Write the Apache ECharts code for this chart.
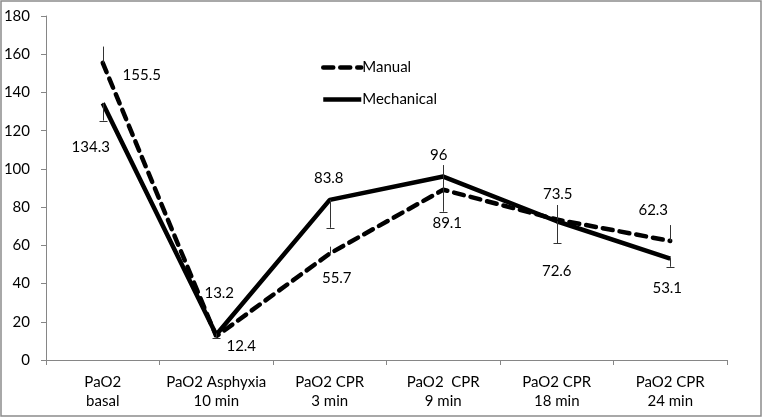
<!DOCTYPE html>
<html>
<head>
<meta charset="utf-8">
<script src="https://cdn.jsdelivr.net/npm/echarts@6/dist/echarts.min.js"></script>
<style>
html,body{margin:0;padding:0;background:#fff;}
#c{width:763px;height:418px;}
</style>
</head>
<body>
<div id="c"></div>
<script>
const categories = ['PaO2\nbasal', 'PaO2 Asphyxia\n10 min', 'PaO2 CPR\n3 min', 'PaO2  CPR\n9 min', 'PaO2 CPR\n18 min', 'PaO2 CPR\n24 min'];
const manual = [155.5, 12.4, 55.7, 89.1, 73.5, 62.3];
const mechanical = [134.3, 13.2, 83.8, 96, 72.6, 53.1];
const manualErrPlus = [8.5, 1.5, 3.6, 12.9, 7.6, 8.3];
const mechanicalErrMinus = [9, 1.5, 14.6, 18.4, 11.4, 4.3];
const yTicks = {min: 0, max: 180, interval: 20};

// label placement (layout only)
const manualLabelOffsets = [[39, 12], [25, 10], [7, 25], [4, 33], [1, -25], [-17, -31]];
const mechLabelOffsets = [[-12, 44], [3, -42], [-1, -22], [-4.5, -21.5], [0, 50], [-3, 30]];

const FONT = 'Lato';

function withLabels(values, offsets) {
  return values.map((v, i) => ({
    value: v,
    label: {offset: offsets[i]}
  }));
}

function errData(values, errs, sign) {
  return values.map((v, i) => [i, v, v + sign * errs[i]]);
}

function errRender(withCap) {
  return function (params, api) {
    const p0 = api.coord([api.value(0), api.value(1)]);
    const p1 = api.coord([api.value(0), api.value(2)]);
    const style = {stroke: '#333', lineWidth: 1};
    const children = [{
      type: 'line',
      shape: {x1: Math.round(p0[0]) + 0.5, y1: p0[1], x2: Math.round(p0[0]) + 0.5, y2: p1[1]},
      style: style
    }];
    if (withCap) {
      children.push({
        type: 'line',
        shape: {x1: Math.round(p0[0]) - 3.5, y1: Math.round(p1[1]) + 0.5, x2: Math.round(p0[0]) + 4.5, y2: Math.round(p1[1]) + 0.5},
        style: style
      });
    }
    return {type: 'group', children: children};
  };
}

const chart = echarts.init(document.getElementById('c'), null, {renderer: 'canvas'});
chart.setOption({
  animation: false,
  backgroundColor: '#fff',
  textStyle: {fontFamily: FONT},
  grid: {left: 46, right: 36, top: 16, bottom: 58, containLabel: false},
  legend: {
    orient: 'vertical',
    left: 316,
    top: 55,
    itemWidth: 38,
    itemHeight: 14,
    itemGap: 17,
    lineStyle: {width: 4.5},
    data: [
      {name: 'Manual', itemStyle: {color: 'transparent', borderWidth: 0}},
      {name: 'Mechanical', itemStyle: {color: 'transparent', borderWidth: 0}}
    ],
    textStyle: {fontFamily: FONT, fontSize: 15, color: '#000', padding: [0, 0, 0, -4]}
  },
  graphic: [{
    type: 'rect',
    shape: {x: 1, y: 1, width: 760, height: 415},
    style: {fill: 'none', stroke: '#8c8c8c', lineWidth: 1.5},
    silent: true,
    z: 100
  }],
  xAxis: {
    type: 'category',
    data: categories,
    boundaryGap: true,
    axisLine: {lineStyle: {color: '#868686', width: 1}},
    axisTick: {show: true, length: 5, interval: 0, lineStyle: {color: '#868686'}},
    axisLabel: {interval: 0, fontFamily: FONT, fontSize: 15, color: '#000', lineHeight: 19, margin: 13}
  },
  yAxis: {
    type: 'value',
    min: yTicks.min,
    max: yTicks.max,
    interval: yTicks.interval,
    splitLine: {show: false},
    axisLine: {show: true, lineStyle: {color: '#868686', width: 1}},
    axisTick: {show: true, length: 5, lineStyle: {color: '#868686'}},
    axisLabel: {fontFamily: FONT, fontSize: 15, color: '#000', margin: 16}
  },
  series: [
    {
      name: 'Manual',
      type: 'line',
      data: withLabels(manual, manualLabelOffsets),
      symbol: 'circle',
      symbolSize: 1,
      itemStyle: {color: '#000'},
      lineStyle: {color: '#000', width: 4.5, type: [10, 7], cap: 'round'},
      label: {show: true, position: 'inside', color: '#000', fontFamily: FONT, fontSize: 15},
      z: 3
    },
    {
      name: 'Mechanical',
      type: 'line',
      data: withLabels(mechanical, mechLabelOffsets),
      symbol: 'circle',
      symbolSize: 1,
      itemStyle: {color: '#000'},
      lineStyle: {color: '#000', width: 4.5, type: 'solid'},
      label: {show: true, position: 'inside', color: '#000', fontFamily: FONT, fontSize: 15},
      z: 3
    },
    {
      type: 'custom',
      name: 'ManualErr',
      data: errData(manual, manualErrPlus, 1),
      renderItem: errRender(false),
      z: 4,
      silent: true
    },
    {
      type: 'custom',
      name: 'MechErr',
      data: errData(mechanical, mechanicalErrMinus, -1),
      renderItem: errRender(true),
      z: 4,
      silent: true
    }
  ]
});
</script>
</body>
</html>
